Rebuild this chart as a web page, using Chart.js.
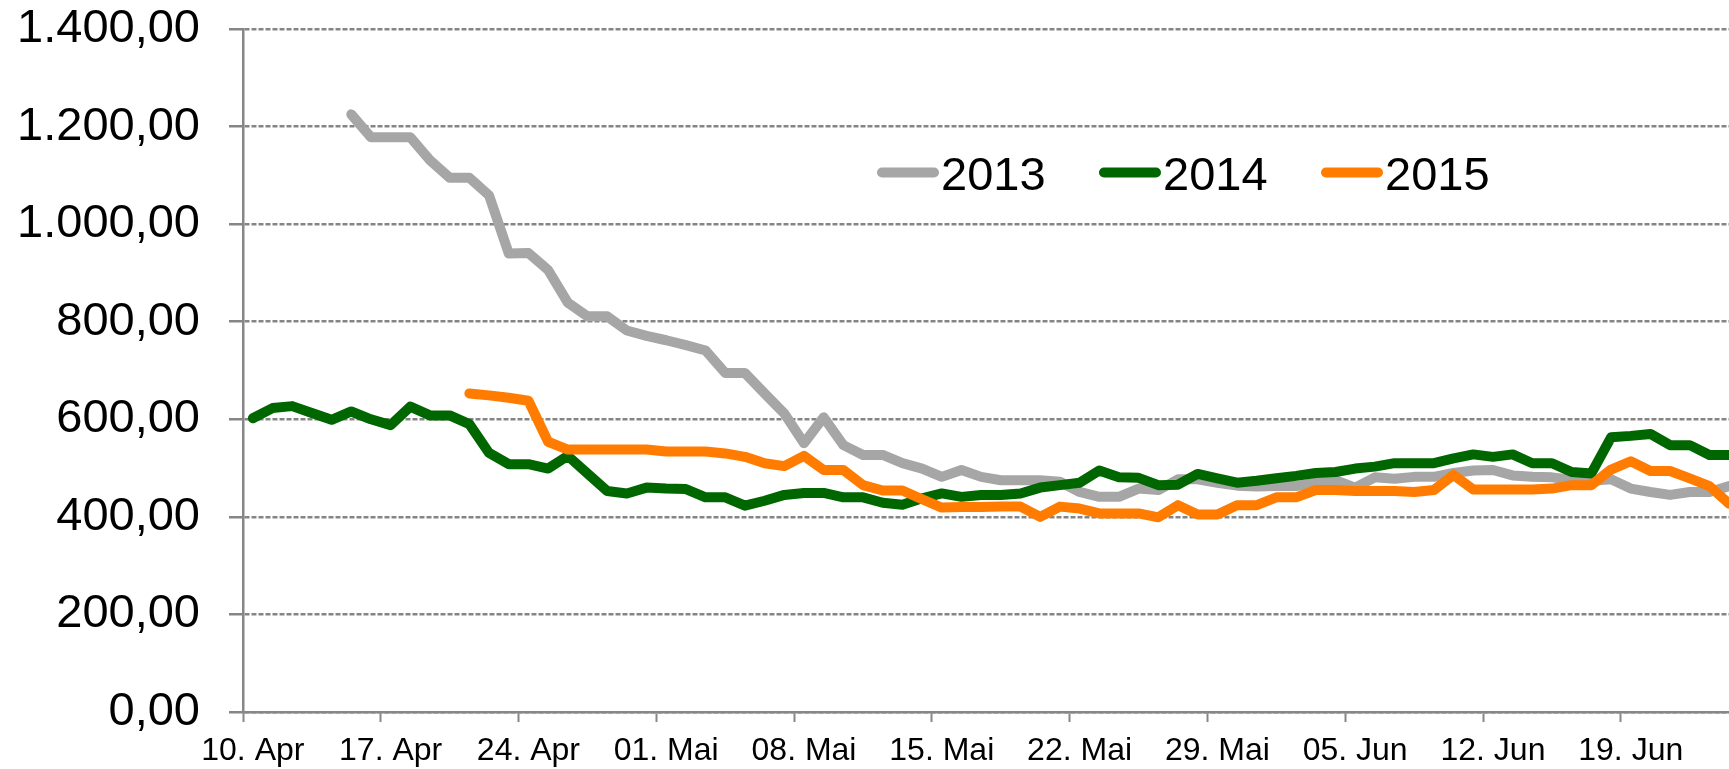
<!DOCTYPE html>
<html>
<head>
<meta charset="utf-8">
<script src="https://cdn.jsdelivr.net/npm/chart.js@4.4.0/dist/chart.umd.min.js"></script>
<style>
    html, body { margin: 0; padding: 0; background: #fff; overflow: hidden; }
    #wrap { position: relative; width: 1745px; height: 769px; }
</style>
</head>
<body>
<div id="wrap"><canvas id="priceChart"></canvas></div>
<script>
// ==========================================
// DATEN
// ==========================================

// Tageskategorien 10. Apr – 24. Jun
const monthNames = ['Apr', 'Mai', 'Jun'];
const monthLengths = [30, 31, 30];
const days = [];
let m = 0, d = 10;
while (days.length < 76) {
    days.push(String(d).padStart(2, '0') + '. ' + monthNames[m]);
    d++;
    if (d > monthLengths[m]) { d = 1; m++; }
}

const seriesLabels = ['2013', '2014', '2015'];

const values2013 = [
    null, null, null, null, null, 1225, 1178, 1178, 1178, 1131,
    1095, 1095, 1059, 940, 941, 906, 839, 811, 811, 782,
    771, 762, 752, 741, 695, 695, 653, 612, 551, 604,
    547, 527, 527, 510, 499, 482, 496, 482, 475, 475,
    475, 472, 451, 441, 441, 458, 455, 477, 477, 470,
    464, 462, 463, 463, 470, 475, 460, 481, 478, 482,
    482, 490, 495, 496, 485, 482, 481, 476, 474, 477,
    458, 451, 445, 451, 451, 463
];

const values2014 = [
    602, 623, 627, 613, 599, 616, 600, 588, 626, 608,
    608, 590, 531, 508, 508, 499, 525, 489, 453, 448,
    460, 458, 457, 440, 440, 423, 433, 445, 449, 449,
    440, 440, 429, 425, 438, 448, 441, 445, 445, 448,
    460, 465, 470, 495, 481, 480, 465, 466, 488, 479,
    470, 474, 479, 484, 490, 492, 499, 503, 510, 510,
    510, 520, 528, 523, 528, 510, 510, 492, 489, 563,
    566, 570, 547, 547, 527, 527
];

const values2015 = [
    null, null, null, null, null, null, null, null, null, null,
    null, 653, 649, 644, 638, 554, 538, 538, 538, 538,
    538, 534, 534, 534, 530, 523, 510, 504, 525, 496,
    496, 465, 454, 454, 436, 419, 420, 420, 421, 421,
    400, 421, 417, 407, 407, 407, 399, 424, 405, 405,
    424, 424, 440, 440, 455, 455, 453, 453, 453, 451,
    455, 486, 456, 456, 456, 456, 458, 465, 465, 497,
    514, 494, 494, 479, 463, 427
];

const seriesColors = ['#A6A6A6', '#006600', '#FF7C00'];

// ==========================================
// HILFSFUNKTIONEN
// ==========================================

function formatGerman(v) {
    const parts = v.toFixed(2).split('.');
    const intPart = parts[0].replace(/\B(?=(\d{3})+(?!\d))/g, '.');
    return intPart + ',' + parts[1];
}

const FONT = '"Liberation Sans", Arial, sans-serif';
const AXIS_GRAY = '#878787';

// Legende innerhalb der Zeichenfläche
const inlineLegend = {
    id: 'inlineLegend',
    afterDatasetsDraw(chart) {
        const ctx = chart.ctx;
        ctx.save();
        ctx.font = '47px ' + FONT;
        ctx.textBaseline = 'alphabetic';
        ctx.textAlign = 'left';
        chart.data.datasets.forEach((ds, i) => {
            const x = 882 + i * 222;
            ctx.strokeStyle = ds.borderColor;
            ctx.lineWidth = 10;
            ctx.lineCap = 'round';
            ctx.beginPath();
            ctx.moveTo(x, 172.5);
            ctx.lineTo(x + 52, 172.5);
            ctx.stroke();
            ctx.fillStyle = '#000';
            ctx.fillText(ds.label, x + 59, 190);
        });
        ctx.restore();
    }
};

// ==========================================
// DIAGRAMM
// ==========================================

const allValues = [values2013, values2014, values2015];

new Chart(document.getElementById('priceChart'), {
    type: 'line',
    data: {
        labels: days,
        datasets: allValues.map((vals, i) => ({
            label: seriesLabels[i],
            data: vals,
            borderColor: seriesColors[i],
            backgroundColor: seriesColors[i],
            borderWidth: 10,
            borderCapStyle: 'round',
            borderJoinStyle: 'round',
            pointRadius: 0,
            tension: 0,
            fill: false,
            order: 2 - i
        }))
    },
    options: {
        responsive: true,
        maintainAspectRatio: false,
        animation: false,
        layout: { padding: { top: 29, right: 6, left: 0, bottom: 0 } },
        plugins: {
            legend: { display: false },
            tooltip: { enabled: false }
        },
        scales: {
            x: {
                type: 'category',
                offset: true,
                afterFit: scale => { scale.height = 57; },
                border: { display: true, color: AXIS_GRAY, width: 2.5 },
                grid: {
                    offset: true,
                    drawOnChartArea: false,
                    drawTicks: true,
                    tickLength: 10,
                    tickWidth: 2,
                    tickColor: c => (c.index % 7 === 0 ? AXIS_GRAY : 'rgba(0,0,0,0)')
                },
                ticks: {
                    autoSkip: false,
                    maxRotation: 0,
                    minRotation: 0,
                    padding: 10,
                    color: '#000',
                    font: { family: FONT, size: 32 },
                    callback: (val, idx) => (idx % 7 === 0 ? days[idx] : '')
                }
            },
            y: {
                min: 0,
                max: 1400,
                afterFit: scale => {
                    scale.width = 243;
                    scale.paddingTop = 0;
                    scale.paddingBottom = 0;
                },
                border: { display: true, color: AXIS_GRAY, width: 2.5, dash: [5, 2] },
                grid: {
                    color: '#858585',
                    lineWidth: 2.5,
                    tickLength: 14,
                    tickColor: '#858585',
                    tickWidth: 2.5
                },
                ticks: {
                    stepSize: 200,
                    padding: 29,
                    color: '#000',
                    font: { family: FONT, size: 47 },
                    callback: v => formatGerman(v)
                }
            }
        }
    },
    plugins: [inlineLegend]
});
</script>
</body>
</html>
